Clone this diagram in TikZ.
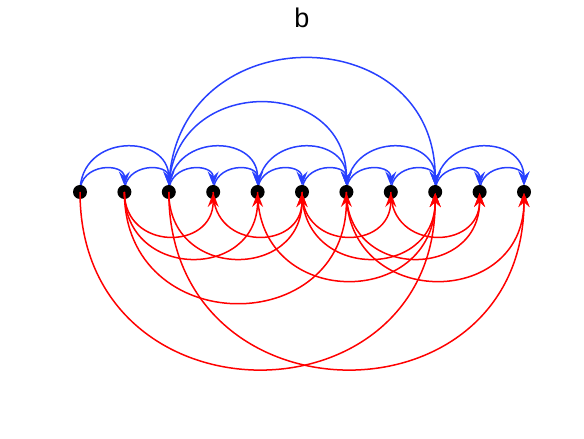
\documentclass[tikz,border=0pt]{standalone}
\usepackage{fontspec}
\setmainfont{Liberation Sans}
\usetikzlibrary{arrows.meta}
\definecolor{arcblue}{RGB}{40,64,255}
\definecolor{arcred}{RGB}{255,0,0}
\begin{document}
\begin{tikzpicture}[x=1pt,y=1pt,
  dot/.style={circle,fill=black,inner sep=0pt,minimum size=14pt},
  arcbase/.style={line width=1.5pt,-{Stealth[length=14pt,width=11pt,inset=5pt]},looseness=1.703},
  uparc/.style={arcbase,draw=arcblue,out=90,in=90,shorten >=6.5pt},
  downarc/.style={arcbase,draw=arcred,out=-90,in=-90,shorten >=1pt}]
\useasboundingbox (0,0) rectangle (584,439);
\node[font=\fontsize{27}{30}\selectfont] (title) at (302,421) {b};
\foreach \i in {0,...,10} {
  \coordinate (c\i) at ({80+44.4*\i},247);
}
% blue arcs above (under the dots)
\foreach \a/\b in {0/1,1/2,2/3,3/4,4/5,5/6,6/7,7/8,8/9,9/10,
                   0/2,2/4,4/6,6/8,8/10,2/6,2/8} {
  \draw[uparc] (c\a) to (c\b);
}
\foreach \i in {0,...,10} {
  \node[dot] (n\i) at (c\i) {};
}
% red arcs below (over the dots)
\foreach \a/\b in {1/3,3/5,5/7,7/9,1/4,2/5,5/8,6/9,4/8,6/10,1/6,0/8,2/10} {
  \draw[downarc] (n\a.center) to (n\b.center);
}
\end{tikzpicture}
\end{document}
